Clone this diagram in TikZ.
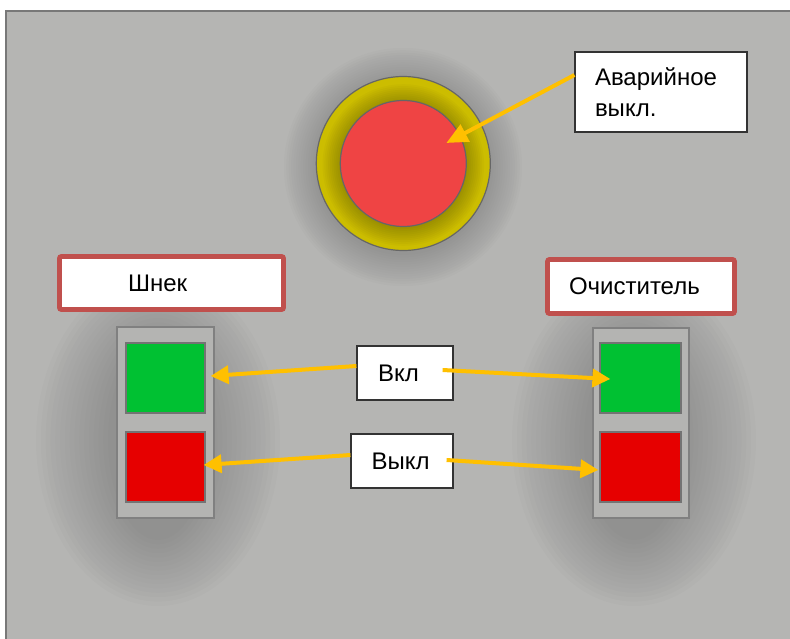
\documentclass[tikz,border=0pt]{standalone}
\usepackage{fontspec}
\setmainfont{Liberation Sans}
\usetikzlibrary{arrows.meta,calc}
\definecolor{panel}{RGB}{181,181,179}
\definecolor{panelline}{RGB}{120,120,120}
\definecolor{ringyellow}{RGB}{204,189,0}
\definecolor{btnred}{RGB}{239,68,68}
\definecolor{frame}{RGB}{192,80,77}
\definecolor{housing}{RGB}{180,180,178}
\definecolor{onGreen}{RGB}{0,193,50}
\definecolor{offRed}{RGB}{230,0,0}
\definecolor{arrowc}{RGB}{255,192,0}
\begin{document}
\begin{tikzpicture}[x=0.75pt,y=-0.75pt,
  lbl/.style={font=\fontsize{18pt}{23pt}\selectfont, text=black},
  callout/.style={lbl, draw=black!80, fill=white, line width=0.9pt, inner ysep=0pt, align=left},
  titlebox/.style={lbl, draw=frame, fill=white, line width=3.6pt, rounded corners=1.5pt, inner ysep=0pt, align=left},
  housingbox/.style={draw=black!50, fill=housing, line width=1.2pt, inner sep=0pt},
  keybox/.style={draw=black!55, line width=0.9pt, inner sep=0pt},
  shadowlayer/.style={fill=black, fill opacity=#1},
  arr/.style={draw=arrowc, line width=3pt, -{Triangle[length=13.5pt,width=13.5pt]}}
]
\useasboundingbox (0,0) rectangle (790,639);
\fill[white] (0,0) rectangle (790,639);
\fill[panel] (5,10) rectangle (790,639);
\draw[panelline, line width=1.2pt] (5.75,639) -- (5.75,10.75) -- (790,10.75);

% soft shadows
\foreach \i in {0,...,13} {
  \fill[shadowlayer=0.012] (403,167) ellipse ({88+\i*2.4} and {88+\i*2.4});
}
\foreach \i in {0,...,15} {
  \fill[shadowlayer=0.011] (158,440) ellipse ({50+\i*4.8} and {100+\i*4.4});
  \fill[shadowlayer=0.011] (634,440) ellipse ({50+\i*4.8} and {100+\i*4.4});
}

% emergency button
\node[circle, draw=black!60, fill=ringyellow, line width=0.9pt, minimum size=130.5pt, inner sep=0pt] (ring) at (403.3,163.5) {};
\begin{scope}
  \clip (403.3,163.5) circle (64.5pt);
  \foreach \i in {0,...,9} {
    \fill[shadowlayer=0.024] (403.3,165) circle ({48+\i*1.4 pt});
  }
\end{scope}
\node[circle, draw=black!60, fill=btnred, line width=0.9pt, minimum size=94.5pt, inner sep=0pt] (btn) at (403.3,163.5) {};

% callout
\node[callout, inner xsep=15pt, text width=99pt, minimum height=60pt] (avar) at (661,92) {Аварийное\\выкл.};

% title boxes
\node[titlebox, inner xsep=51.4pt, text width=65.25pt, minimum height=39.75pt] (shnek) at (171.5,283) {Шнек};
\node[titlebox, inner xsep=16.1pt, text width=108pt, minimum height=40.5pt] (ochist) at (641,286.5) {Очиститель};

% housings
\node[housingbox, minimum width=72.75pt, minimum height=143.25pt] (hL) at (165.5,422.5) {};
\node[housingbox, minimum width=72pt, minimum height=142.5pt] (hR) at (641,423) {};

% keys
\node[keybox, fill=onGreen, minimum width=59.25pt, minimum height=52.5pt] (gL) at (165.5,378) {};
\node[keybox, fill=offRed, minimum width=59.25pt, minimum height=52.5pt] (rL) at (165.5,467) {};
\node[keybox, fill=onGreen, minimum width=60.75pt, minimum height=52.5pt] (gR) at (640.5,378) {};
\node[keybox, fill=offRed, minimum width=60.75pt, minimum height=52.5pt] (rR) at (640.5,467) {};

% on / off labels
\node[callout, inner xsep=15.75pt, text width=40.5pt, minimum height=40.5pt] (vkl) at (405,373) {Вкл};
\node[callout, inner xsep=15.5pt, text width=45.5pt, minimum height=40.5pt] (vykl) at (402,461) {Выкл};

% arrows
\draw[arr, -{Triangle[length=16pt,width=14pt]}] ($(avar.west)+(0,-17)$) -- ($(btn.center)+(43,-20.5)$);
\draw[arr] ($(vkl.west)+(0,-7)$) -- ($(gL.east)+(5,-2)$);
\draw[arr] ($(vkl.east)+(-11,-3)$) -- ($(gR.west)+(11,1)$);
\draw[arr] ($(vykl.west)+(0,-6)$) -- ($(rL.east)+(-2,-2)$);
\draw[arr] ($(vykl.east)+(-7,-1)$) -- ($(rR.west)+(-1,3)$);
\end{tikzpicture}
\end{document}
